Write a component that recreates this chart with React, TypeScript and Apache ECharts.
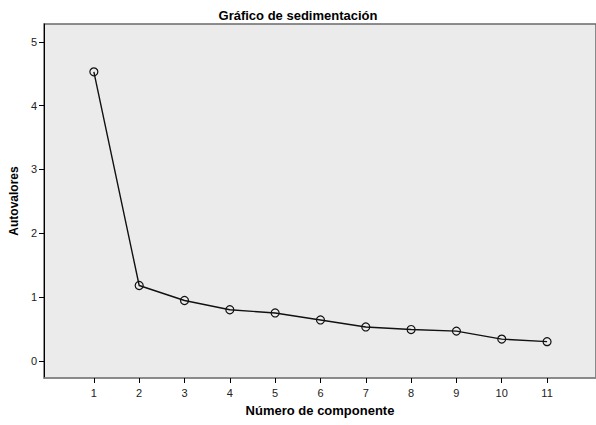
import React, { useEffect, useRef } from "react";
import * as echarts from "echarts";

const componentNumbers = [1, 2, 3, 4, 5, 6, 7, 8, 9, 10, 11];
const eigenvalues = [4.53, 1.18, 0.945, 0.8, 0.75, 0.64, 0.53, 0.49, 0.465, 0.34, 0.3];
const xTicks = [1, 2, 3, 4, 5, 6, 7, 8, 9, 10, 11];
const yTicks = [0, 1, 2, 3, 4, 5];

const FONT = "'Liberation Sans', Arial, sans-serif";

export default function App() {
  const ref = useRef<HTMLDivElement>(null);
  useEffect(() => {
    if (!ref.current) return;
    const chart = echarts.init(ref.current, undefined, { renderer: "svg" });
    chart.setOption({
      animation: false,
      backgroundColor: "#ffffff",
      title: {
        text: "Gráfico de sedimentación",
        left: "center",
        top: 4,
        textStyle: { fontFamily: FONT, fontSize: 13, fontWeight: "bold", color: "#000" },
      },
      grid: {
        left: 43,
        right: 0,
        top: 24,
        bottom: 47,
        show: true,
        backgroundColor: "#ebebeb",
        borderColor: "#6a6a6a",
        borderWidth: 1.5,
      },
      xAxis: {
        type: "value",
        min: -0.1,
        max: 12.08,
        name: "Número de componente",
        nameLocation: "middle",
        nameGap: 26,
        nameTextStyle: { fontFamily: FONT, fontSize: 13, fontWeight: "bold", color: "#000" },
        axisLine: { show: true, onZero: false, lineStyle: { color: "#8a8a8a", width: 1.5 } },
        axisTick: { show: true, length: 5, lineStyle: { color: "#000" }, customValues: xTicks },
        axisLabel: {
          fontFamily: FONT,
          fontSize: 11,
          color: "#222",
          margin: 9,
          customValues: xTicks,
        },
        splitLine: { show: false },
      },
      yAxis: {
        type: "value",
        min: -0.27,
        max: 5.28,
        name: "Autovalores",
        nameLocation: "middle",
        nameGap: 24,
        nameTextStyle: { fontFamily: FONT, fontSize: 12, fontWeight: "bold", color: "#000" },
        axisLine: { show: true, onZero: false, lineStyle: { color: "#000", width: 1 } },
        axisTick: { show: true, length: 5, lineStyle: { color: "#000" }, customValues: yTicks },
        axisLabel: {
          fontFamily: FONT,
          fontSize: 11,
          color: "#222",
          margin: 7,
          customValues: yTicks,
        },
        splitLine: { show: false },
      },
      series: [
        {
          type: "line",
          data: componentNumbers.map((c, i) => [c, eigenvalues[i]]),
          symbol: "circle",
          symbolSize: 8,
          showAllSymbol: true,
          lineStyle: { color: "#111", width: 1.4 },
          itemStyle: { color: "rgba(0,0,0,0)", borderColor: "#111", borderWidth: 1.2 },
        },
      ],
    });
    return () => chart.dispose();
  }, []);
  return (
    <div
      ref={ref}
      style={{ position: "fixed", left: 0, top: 0, width: 596, height: 425 }}
    />
  );
}
